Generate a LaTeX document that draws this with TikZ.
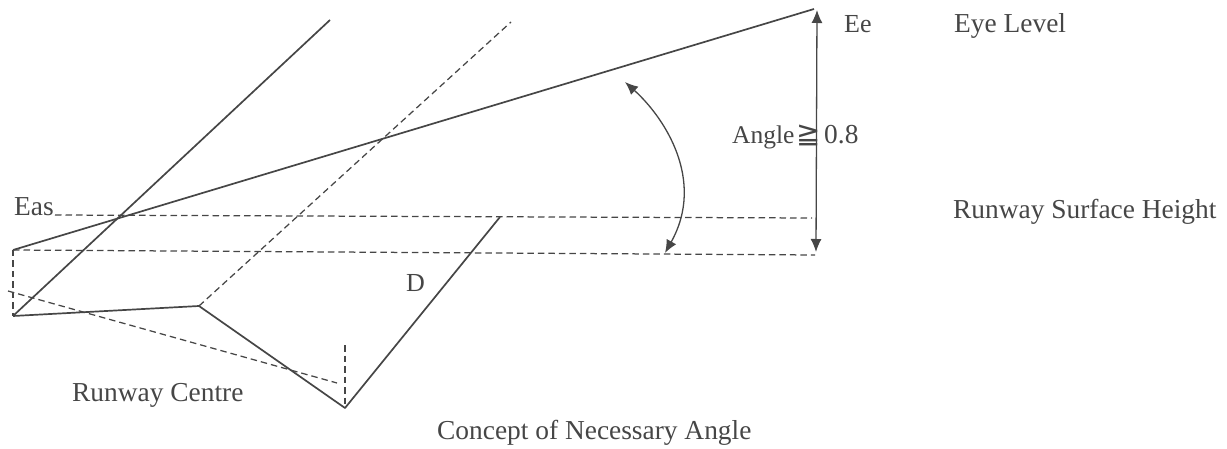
\documentclass[tikz,border=0pt]{standalone}
\usepackage{fontspec}
\setmainfont{Liberation Serif}
\newfontfamily\symfont{DejaVu Sans}
\usetikzlibrary{arrows.meta}
\definecolor{ink}{RGB}{70,70,70}
\tikzset{
  x=1pt,y=-1pt,
  solidline/.style={draw=ink,line width=1.7pt},
  dashline/.style={draw=ink,line width=1.25pt,dash pattern=on 6.5pt off 4pt},
  arrowline/.style={draw=ink,line width=1.3pt,{Latex[length=13pt,width=11pt]}-{Latex[length=13pt,width=11pt]}},
  label/.style={text=ink,font=\fontsize{27.4}{30}\selectfont,inner sep=0pt,anchor=base west}
}
\begin{document}
\begin{tikzpicture}
\useasboundingbox (0,0) rectangle (1227,449);
\coordinate (eye) at (814,9);
\coordinate (low) at (13,250);
\coordinate (base) at (13,316);
\coordinate (topA) at (330,20);
\coordinate (topB) at (511,22);
\coordinate (mid) at (199,306);
\coordinate (apex) at (345,408);
\coordinate (upEnd) at (500,217);
\coordinate (upL) at (55,215);
\coordinate (upR) at (812,218);
\coordinate (lowR) at (815,255);
\coordinate (cenL) at (8,291);
\coordinate (cenR) at (337,383);
\coordinate (tick) at (345,345);
\coordinate (arrT) at (817,10);
\coordinate (arrB) at (816,252);
\coordinate (curT) at (625,82);
\coordinate (curB) at (665,253);
% solid
\draw[solidline] (low) -- (eye);
\draw[solidline] (base) -- (topA);
\draw[solidline,line join=round] (base) -- (mid) -- (apex) -- (upEnd);
% dashed
\draw[dashline] (upL) -- (upR);
\draw[dashline] (low) -- (lowR);
\draw[dashline] (low) -- (base);
\draw[dashline] (mid) -- (topB);
\draw[dashline] (cenL) -- (cenR);
\draw[dashline] (tick) -- (apex);
% arrows
\draw[arrowline] (arrT) -- (arrB);
\draw[arrowline] (curT) .. controls (664,117) and (706,180) .. (curB);
% text
\node[label] (eas) at (14,216) {Eas};
\node[label,font=\fontsize{26}{28}\selectfont] (ee) at (844,33) {Ee};
\node[label] (eyelevel) at (954,33) {Eye Level};
\node[label,font=\fontsize{25.5}{28}\selectfont] (angle) at (732,144) {Angle};
\node[label,font=\symfont\fontsize{29}{30}\selectfont] (ge) at (796,144) {≧};
\node[label] (val) at (824,144) {0.8};
\node[label] (rsh) at (953,219) {Runway Surface Height};
\node[label,font=\fontsize{26}{28}\selectfont] (d) at (406,291) {D};
\node[label] (rc) at (72,401) {Runway Centre};
\node[label] (title) at (437,439) {Concept of Necessary Angle};
\end{tikzpicture}
\end{document}
